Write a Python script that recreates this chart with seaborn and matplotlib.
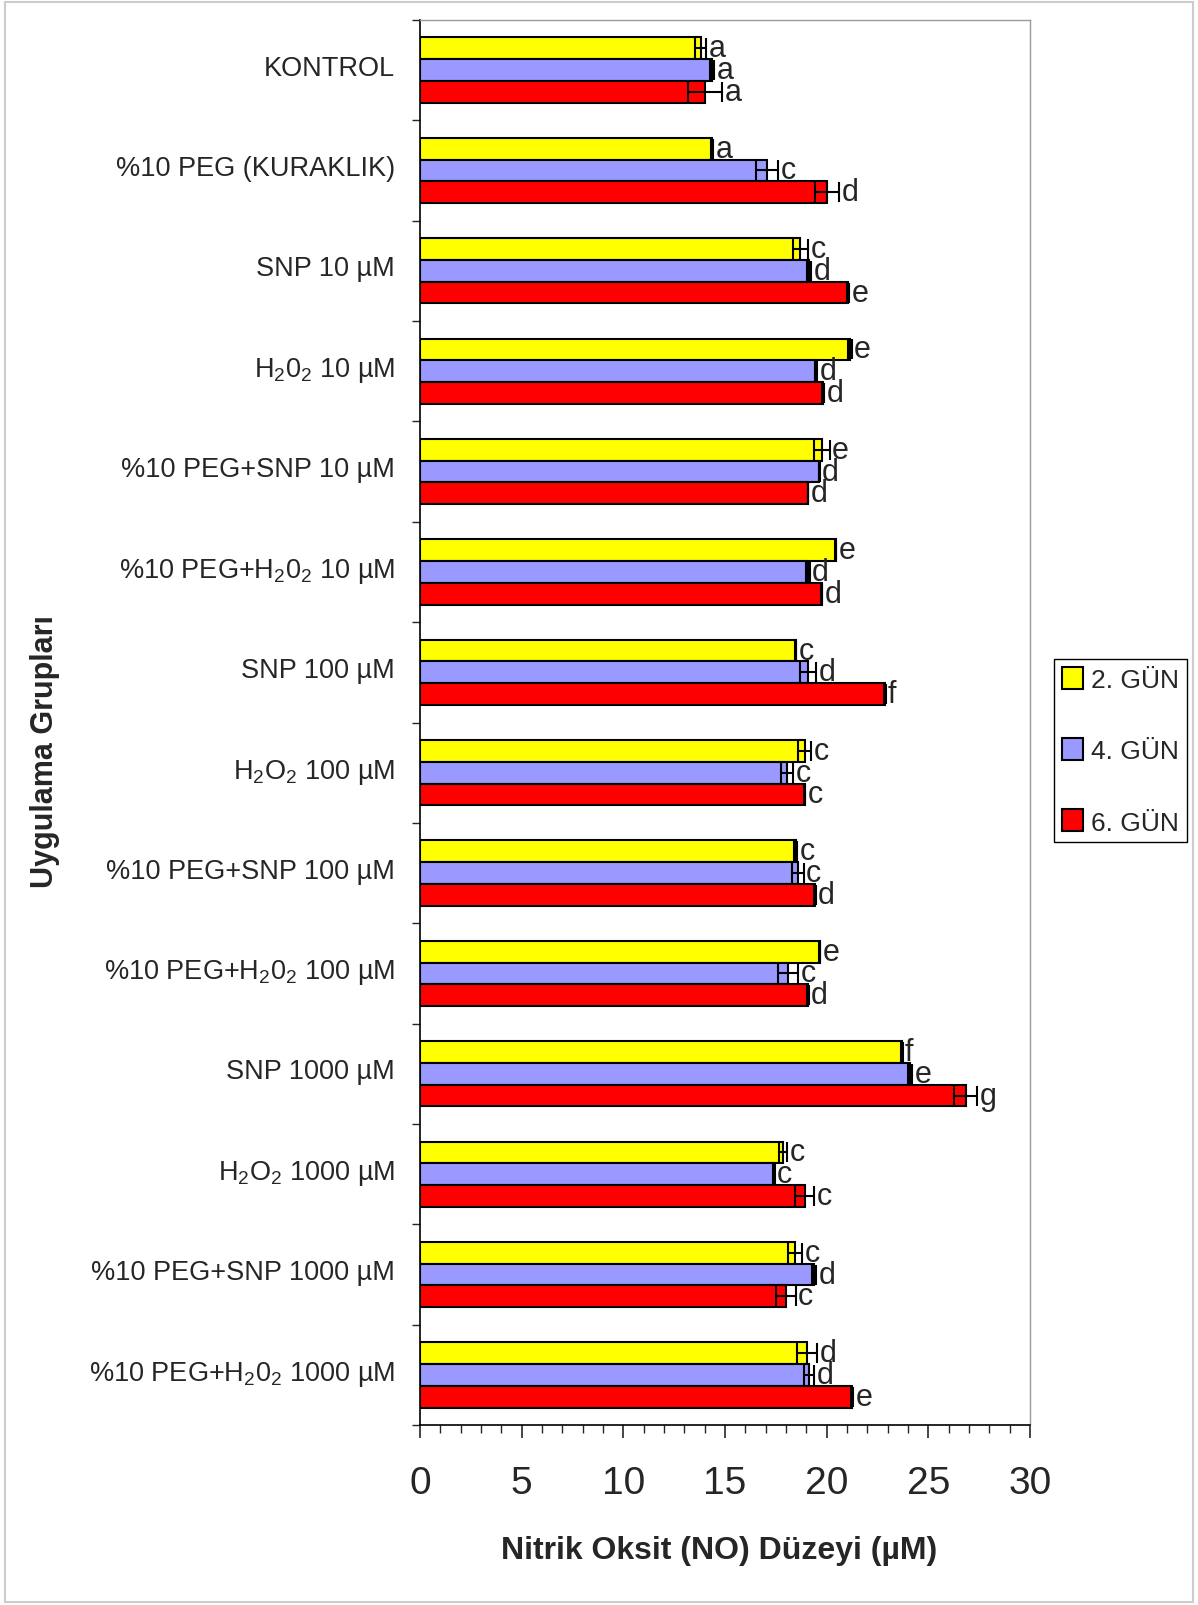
import matplotlib
matplotlib.use("Agg")
import matplotlib.pyplot as plt
import matplotlib.transforms as mtransforms
import seaborn as sns
import pandas as pd
from matplotlib.patches import Rectangle
from matplotlib.ticker import MultipleLocator, FixedLocator

gruplar = ["KONTROL", "%10 PEG (KURAKLIK)", "SNP 10 µM", "H$_2$0$_2$ 10 µM$\\enspace$",
           "%10 PEG+SNP 10 µM", "%10 PEG+H$_2$0$_2$ 10 µM$\\quad$", "SNP 100 µM",
           "H$_2$O$_2$ 100 µM$\\quad$", "%10 PEG+SNP 100 µM", "%10 PEG+H$_2$0$_2$ 100 µM$\\quad$",
           "SNP 1000 µM", "H$_2$O$_2$ 1000 µM$\\quad$", "%10 PEG+SNP 1000 µM",
           "%10 PEG+H$_2$0$_2$ 1000 µM$\\quad$"]
gunler = ["2. GÜN", "4. GÜN", "6. GÜN"]
renkler = {"2. GÜN": "#FFFF00", "4. GÜN": "#9999FF", "6. GÜN": "#FF0000"}

gun2 = [13.8, 14.35, 18.7, 21.13, 19.76, 20.45, 18.48, 18.91, 18.48, 19.66, 23.68, 17.86, 18.44, 19.04]
gun4 = [14.35, 17.07, 19.14, 19.47, 19.64, 19.06, 19.08, 18.05, 18.57, 18.1, 24.1, 17.41, 19.38, 19.12]
gun6 = [14.01, 20.02, 21.05, 19.83, 19.08, 19.76, 22.85, 18.91, 19.42, 19.08, 26.83, 18.91, 18.0, 21.24]

hata2 = [0.28, 0.05, 0.38, 0.1, 0.38, 0.03, 0.03, 0.33, 0.08, 0.03, 0.05, 0.2, 0.35, 0.48]
hata4 = [0.1, 0.53, 0.1, 0.05, 0.02, 0.1, 0.4, 0.3, 0.3, 0.5, 0.1, 0.03, 0.1, 0.26]
hata6 = [0.85, 0.6, 0.05, 0.05, 0.02, 0.03, 0.05, 0.03, 0.03, 0.03, 0.56, 0.47, 0.48, 0.05]

harf2 = ["a", "a", "c", "e", "e", "e", "c", "c", "c", "e", "f", "c", "c", "d"]
harf4 = ["a", "c", "d", "d", "d", "d", "d", "c", "c", "c", "e", "c", "d", "d"]
harf6 = ["a", "d", "e", "d", "d", "d", "f", "c", "d", "d", "g", "c", "c", "e"]

df = pd.DataFrame({
    "grup": gruplar * 3,
    "gun": [g for g in gunler for _ in gruplar],
    "deger": gun2 + gun4 + gun6,
})

sns.set_style("ticks")
plt.rcParams["font.family"] = ["Liberation Sans", "DejaVu Sans"]
plt.rcParams["mathtext.default"] = "regular"

fig = plt.figure(figsize=(11.98, 16.06), dpi=100)
ax = fig.add_axes([0.3506, 0.112, 0.5092, 0.875])

sns.barplot(data=df, x="deger", y="grup", hue="gun", order=gruplar, hue_order=gunler,
            palette=renkler, orient="y", width=0.65, errorbar=None, saturation=1,
            edgecolor="black", linewidth=1.5, ax=ax)

for cont, hatalar, harfler in zip(ax.containers, [hata2, hata4, hata6], [harf2, harf4, harf6]):
    for bar, e, h in zip(cont, hatalar, harfler):
        cy = bar.get_y() + bar.get_height() / 2
        w = bar.get_width()
        ax.errorbar(w, cy, xerr=e, fmt="none", ecolor="black", elinewidth=1.5,
                    capsize=7, capthick=1.5)
        ax.text(w + e + 0.12, cy, h, fontsize=22, va="center", ha="left")

ax.set_xlim(0, 30)
ax.set_ylim(len(gruplar) - 0.5, -0.5)
ax.set_xticks(range(0, 31, 5))
ax.xaxis.set_minor_locator(MultipleLocator(1))
ax.tick_params(axis="x", which="major", length=9, width=1.2, labelsize=28, pad=20, direction="out")
ax.tick_params(axis="x", which="minor", length=6, width=1.0, direction="out")
ax.yaxis.set_minor_locator(FixedLocator([i - 0.5 for i in range(15)]))
ax.tick_params(axis="y", which="major", length=0, labelsize=19.5, pad=18)
ax.tick_params(axis="y", which="minor", length=6, width=1.0, direction="out")

# etiketleri biraz yukari kaydir
kaydir = mtransforms.ScaledTranslation(0, 4 / 72, fig.dpi_scale_trans)
for lbl in ax.get_yticklabels():
    lbl.set_transform(lbl.get_transform() + kaydir)

for s in ["top", "right"]:
    ax.spines[s].set_color("#999999")
    ax.spines[s].set_linewidth(1.0)
for s in ["left", "bottom"]:
    ax.spines[s].set_color("black")
    ax.spines[s].set_linewidth(1.2)

ax.set_xlabel("Nitrik Oksit (NO) Düzeyi (µM)", fontsize=23, fontweight="bold")
ax.set_ylabel("Uygulama Grupları", fontsize=22, fontweight="bold")
ax.xaxis.set_label_coords(0.49, -0.078)
ax.yaxis.set_label_coords(-0.59, 0.48)

handles, labels = ax.get_legend_handles_labels()
ax.get_legend().remove()
fig.legend(handles, labels, loc="upper left", bbox_to_anchor=(0.88, 0.589),
           frameon=True, fancybox=False, edgecolor="black", framealpha=1,
           labelspacing=1.75, handlelength=0.8, handleheight=0.9, handletextpad=0.3,
           borderpad=0.3, borderaxespad=0, fontsize=19)

fig.patches.append(Rectangle((0.004, 0.002), 0.992, 0.996, transform=fig.transFigure,
                             fill=False, edgecolor="#cccccc", linewidth=1.5))

plt.savefig("out.png", dpi=100)
